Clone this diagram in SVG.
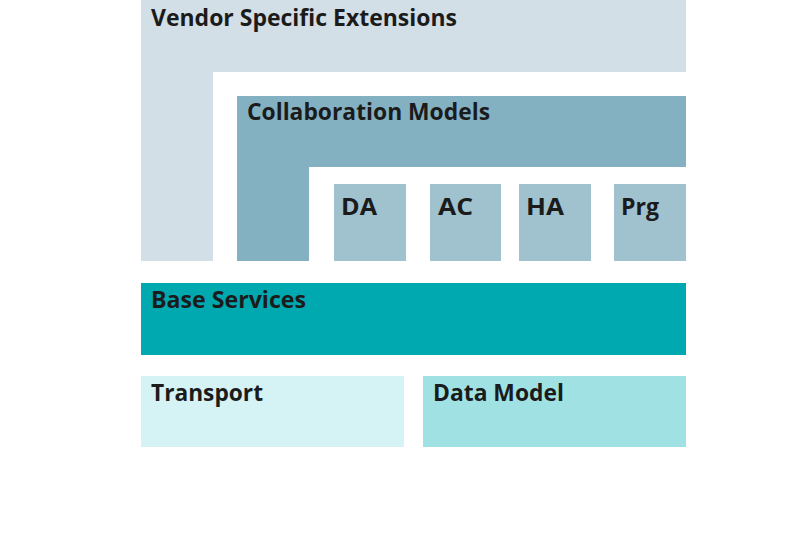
<svg xmlns="http://www.w3.org/2000/svg" width="800" height="545" viewBox="0 0 800 545">
<style>
text{font-family:"Open Sans","Liberation Sans",sans-serif;font-weight:bold;font-size:23px;fill:#1b1b1b}
</style>
<rect width="800" height="545" fill="#ffffff"/>
<g id="vendor">
<path d="M141 0H686V72H213V261H141Z" fill="#d2dfe6"/>
<text x="151" y="26" textLength="306" lengthAdjust="spacingAndGlyphs">Vendor Specific Extensions</text>
</g>
<g id="collab">
<path d="M237 96H686V167H309V261H237Z" fill="#83b1c2"/>
<text x="247" y="120" textLength="243" lengthAdjust="spacingAndGlyphs">Collaboration Models</text>
</g>
<g id="da"><rect x="334" y="184" width="72" height="77" fill="#a0c2cf"/><text x="341" y="215" textLength="36" lengthAdjust="spacingAndGlyphs">DA</text></g>
<g id="ac"><rect x="430" y="184" width="71" height="77" fill="#a0c2cf"/><text x="438" y="215" textLength="35" lengthAdjust="spacingAndGlyphs">AC</text></g>
<g id="ha"><rect x="519" y="184" width="72" height="77" fill="#a0c2cf"/><text x="526" y="215" textLength="38" lengthAdjust="spacingAndGlyphs">HA</text></g>
<g id="prg"><rect x="614" y="184" width="72" height="77" fill="#a0c2cf"/><text x="621" y="215" textLength="38" lengthAdjust="spacingAndGlyphs">Prg</text></g>
<g id="base"><rect x="141" y="283" width="545" height="72" fill="#00a9b0"/><text x="151" y="308" textLength="155" lengthAdjust="spacingAndGlyphs">Base Services</text></g>
<g id="transport"><rect x="141" y="376" width="263" height="71" fill="#d5f2f4"/><text x="151" y="401" textLength="112" lengthAdjust="spacingAndGlyphs">Transport</text></g>
<g id="datamodel"><rect x="423" y="376" width="263" height="71" fill="#a0e2e4"/><text x="433" y="401" textLength="131" lengthAdjust="spacingAndGlyphs">Data Model</text></g>
<g id="connectors"/>
</svg>
